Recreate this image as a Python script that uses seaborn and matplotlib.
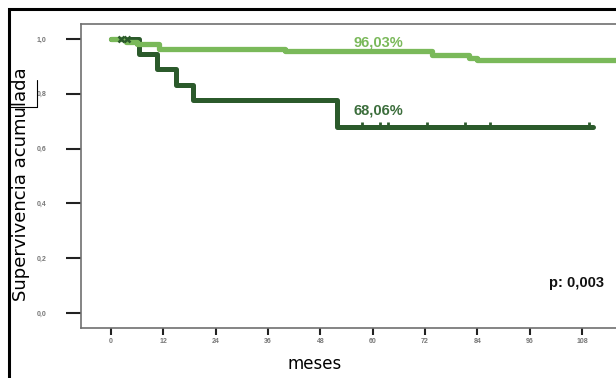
import matplotlib
matplotlib.use("Agg")
import matplotlib.pyplot as plt
import seaborn as sns
import pandas as pd
from matplotlib.patches import Rectangle
from matplotlib.lines import Line2D

# Kaplan-Meier steps (months, cumulative survival)
light_t = [0, 3.5, 6, 11, 40, 73.7, 82, 84, 117]
light_s = [1.0, 0.99, 0.982, 0.964, 0.958, 0.943, 0.93, 0.922, 0.922]

dark_t = [0, 6.5, 10.6, 14.8, 18.8, 51.8, 110.6]
dark_s = [1.0, 0.9444, 0.8889, 0.8333, 0.7778, 0.6806, 0.6806]

dark_cens_t = [57.6, 61.7, 63.5, 72.5, 81.2, 86.9, 109.6]
dark_early_cens = [2.3, 3.6]

x_ticks = [0, 12, 24, 36, 48, 60, 72, 84, 96, 108]
y_ticks = [0.0, 0.2, 0.4, 0.6, 0.8, 1.0]
y_labels = ["0,0", "0,2", "0,4", "0,6", "0,8", "1,0"]

light_col = "#7ab95a"
dark_col = "#2b5a2b"

sns.set_style("white")
plt.rcParams["font.family"] = ["DejaVu Sans"]

fig = plt.figure(figsize=(6.16, 3.78), dpi=100)
ax = fig.add_axes([81 / 616, 1 - 328 / 378, 1 - 81 / 616, (328 - 24) / 378])

df_light = pd.DataFrame({"meses": light_t, "surv": light_s})
df_dark = pd.DataFrame({"meses": dark_t, "surv": dark_s})

sns.lineplot(data=df_dark, x="meses", y="surv", drawstyle="steps-post",
             estimator=None, sort=False, color=dark_col, lw=3.6, ax=ax)
ax.plot(dark_cens_t, [dark_s[-1] + 0.004] * len(dark_cens_t), ls="none",
        marker="|", ms=5, mew=2, color=dark_col)
sns.lineplot(data=df_light, x="meses", y="surv", drawstyle="steps-post",
             estimator=None, sort=False, color=light_col, lw=3.8, ax=ax)
ax.plot(dark_early_cens, [1.0] * len(dark_early_cens), ls="none", marker="x",
        ms=5, mew=1.8, color=dark_col)

ax.set_xlim(-6.9, 115.8)
ax.set_ylim(-0.055, 1.055)
ax.set_xticks(x_ticks)
ax.set_xticklabels([str(v) for v in x_ticks], fontsize=5, color="#777777",
                   family="Liberation Sans", fontweight="bold")
ax.set_yticks(y_ticks)
ax.set_yticklabels(y_labels, fontsize=5, color="#777777",
                   family="Liberation Sans", fontweight="bold")
ax.tick_params(axis="y", direction="out", length=11, width=1.5, color="#222222",
               pad=14, left=True)
ax.tick_params(axis="x", direction="out", length=5, width=1.5, color="#222222",
               pad=2.5, bottom=True)
ax.set_xlabel("")
ax.set_ylabel("")

for side in ["left", "top", "bottom"]:
    ax.spines[side].set_color("#707070")
    ax.spines[side].set_linewidth(1.2)
ax.spines["right"].set_visible(False)

ax.text(61.3, 0.9875, "96,03%", color=light_col, fontsize=10.5,
        fontweight="bold", family="Liberation Sans", ha="center", va="center")
ax.text(61.3, 0.7375, "68,06%", color="#3c6e3c", fontsize=10.5,
        fontweight="bold", family="Liberation Sans", ha="center", va="center")
ax.text(106.7, 0.11, "p: 0,003", color="#111111", fontsize=10.5,
        fontweight="bold", family="Liberation Sans", ha="center", va="center")

# outer slide frame
fig.add_artist(Rectangle((9 / 616, -0.2), 1.2, 1 - 9 / 378 + 0.2,
                         transform=fig.transFigure, fill=False,
                         ec="black", lw=2.2, clip_on=False))
fig.add_artist(Line2D([9 / 616, 37 / 616], [1 - 107 / 378, 1 - 107 / 378],
                      transform=fig.transFigure, color="black", lw=0.8))
fig.add_artist(Line2D([37 / 616, 37 / 616], [1 - 80 / 378, 1 - 107 / 378],
                      transform=fig.transFigure, color="black", lw=0.8))

fig.text(21 / 616, 1 - 184 / 378, "Supervivencia acumulada", rotation=90,
         fontsize=13, ha="center", va="center", color="black")
fig.text(315 / 616, 1 - 364 / 378, "meses", fontsize=12, ha="center",
         va="center", color="black")

fig.savefig("out.png", dpi=100)
plt.close(fig)
